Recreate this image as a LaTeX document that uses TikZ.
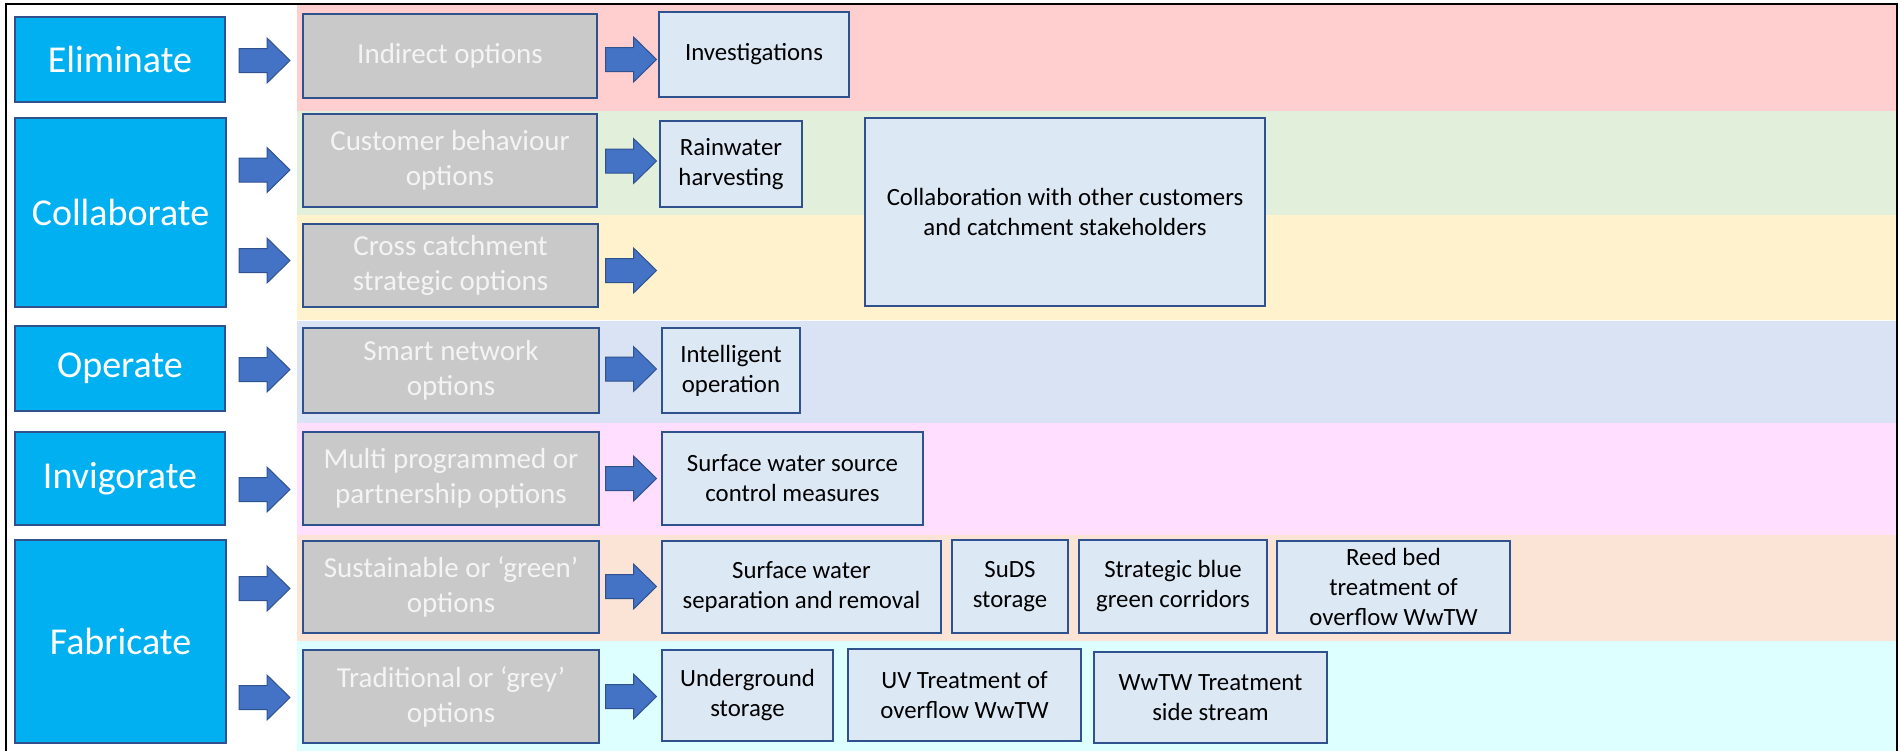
\documentclass[tikz,border=0pt]{standalone}
\usepackage{fontspec}
\setmainfont{Carlito}

\definecolor{stageblue}{HTML}{00B0F0}
\definecolor{boxline}{HTML}{2F528F}
\definecolor{optiongrey}{HTML}{C9C9C9}
\definecolor{optiontext}{HTML}{F4F4F4}
\definecolor{measurefill}{HTML}{DDE8F5}
\definecolor{arrowblue}{HTML}{4472C4}
\definecolor{bandred}{HTML}{FFCECE}
\definecolor{bandgreen}{HTML}{E2EFDA}
\definecolor{bandyellow}{HTML}{FFF2CC}
\definecolor{bandblue}{HTML}{DAE3F3}
\definecolor{bandpink}{HTML}{FFDEFF}
\definecolor{bandpeach}{HTML}{FBE4D5}
\definecolor{bandcyan}{HTML}{DEFFFF}

% box from its corners (in px): style, name, x1, y1, x2, y2, text
\newcommand{\panel}[7]{%
  \node[#1, minimum width={(#5-#3)*0.5pt}, minimum height={(#6-#4)*0.5pt}]
    (#2) at ({(#3+#5)/2},{(#4+#6)/2}) {#7};}

\tikzset{
  basebox/.style={draw=boxline, line width=1pt, align=center, inner sep=0pt},
  stage/.style={basebox, fill=stageblue, text=white, font=\fontsize{19}{23}\selectfont},
  option/.style={basebox, fill=optiongrey, text=optiontext, font=\fontsize{14.5}{17.5}\selectfont},
  measure/.style={basebox, fill=measurefill, text=black, font=\fontsize{12.4}{15}\selectfont},
  blockarrow/.pic={
    \coordinate (-centre) at (0,0);
    \path[draw=boxline, line width=0.5pt, fill=arrowblue, line join=miter]
      (-25.5,-12) -- (2.5,-12) -- (2.5,-22.5) -- (25.5,0)
      -- (2.5,22.5) -- (2.5,12) -- (-25.5,12) -- cycle;
  },
}

\begin{document}
\begin{tikzpicture}[x=0.5pt,y=-0.5pt]
\useasboundingbox (0,0) rectangle (1900,750);

% coloured rows behind the options
\begin{scope}
  \clip (0,0) rectangle (1900,750);
  \fill[bandred]    (297,5)   rectangle (1897,111);
  \fill[bandgreen]  (297,111) rectangle (1897,215);
  \fill[bandyellow] (297,215) rectangle (1897,320);
  \fill[bandblue]   (297,321) rectangle (1897,423);
  \fill[bandpink]   (297,423) rectangle (1897,535);
  \fill[bandpeach]  (297,535) rectangle (1897,641);
  \fill[bandcyan]   (297,641) rectangle (1897,760);
  \draw[line width=1pt] (6,4) rectangle (1897,770);
\end{scope}

% stages
\panel{stage}{elim}{15}{17}{225}{102}{Eliminate}
\panel{stage}{coll}{15}{118}{226}{307}{Collaborate}
\panel{stage}{oper}{15}{326}{225}{411}{Operate}
\panel{stage}{invi}{15}{432}{225}{525}{Invigorate}
\panel{stage}{fabr}{15}{540}{226}{743}{Fabricate}

% option groups
\panel{option}{indirect}{303}{14}{597}{98}{Indirect options}
\panel{option}{customer}{303}{114}{597}{207}{Customer behaviour\\options}
\panel{option}{cross}{303}{224}{598}{307}{Cross catchment\\strategic options}
\panel{option}{smart}{303}{328}{599}{413}{Smart network\\options}
\panel{option}{multi}{303}{432}{599}{525}{Multi programmed or\\partnership options}
\panel{option}{green}{303}{541}{599}{633}{Sustainable or ‘green’\\options}
\panel{option}{grey}{303}{650}{599}{743}{Traditional or ‘grey’\\options}

% measures
\panel{measure}{invest}{659}{12}{849}{97}{Investigations}
\panel{measure}{rain}{660}{121}{802}{207}{Rainwater\\harvesting}
\panel{measure}{collab}{865}{118}{1265}{306}{Collaboration with other customers\\and catchment stakeholders}
\panel{measure}{intel}{662}{328}{800}{413}{Intelligent\\operation}
\panel{measure}{source}{662}{432}{923}{525}{Surface water source\\control measures}
\panel{measure}{separ}{662}{541}{941}{633}{Surface water\\separation and removal}
\panel{measure}{suds}{952}{540}{1068}{633}{SuDS\\storage}
\panel{measure}{corr}{1079}{540}{1267}{633}{Strategic blue\\green corridors}
\panel{measure}{reed}{1277}{541}{1510}{633}{Reed bed\\treatment of\\overflow WwTW}
\panel{measure}{under}{662}{650}{833}{741}{Underground\\storage}
\panel{measure}{uv}{848}{649}{1081}{741}{UV Treatment of\\overflow WwTW}
\panel{measure}{side}{1094}{652}{1327}{743}{WwTW Treatment\\side stream}

% block arrows from stages to options
\pic (a1) at (264.5,60.5)  {blockarrow};
\pic (a2) at (264.5,170)   {blockarrow};
\pic (a3) at (264.5,260.5) {blockarrow};
\pic (a4) at (264.5,369.5) {blockarrow};
\pic (a5) at (264.5,489.5) {blockarrow};
\pic (a6) at (264.5,588.5) {blockarrow};
\pic (a7) at (264.5,697.5) {blockarrow};

% block arrows from options to measures
\pic (b1) at (631,59.5)  {blockarrow};
\pic (b2) at (631,161)   {blockarrow};
\pic (b3) at (631,270.5) {blockarrow};
\pic (b4) at (631,369)   {blockarrow};
\pic (b5) at (631,478.5) {blockarrow};
\pic (b6) at (631,586.5) {blockarrow};
\pic (b7) at (631,696.5) {blockarrow};
\end{tikzpicture}
\end{document}
